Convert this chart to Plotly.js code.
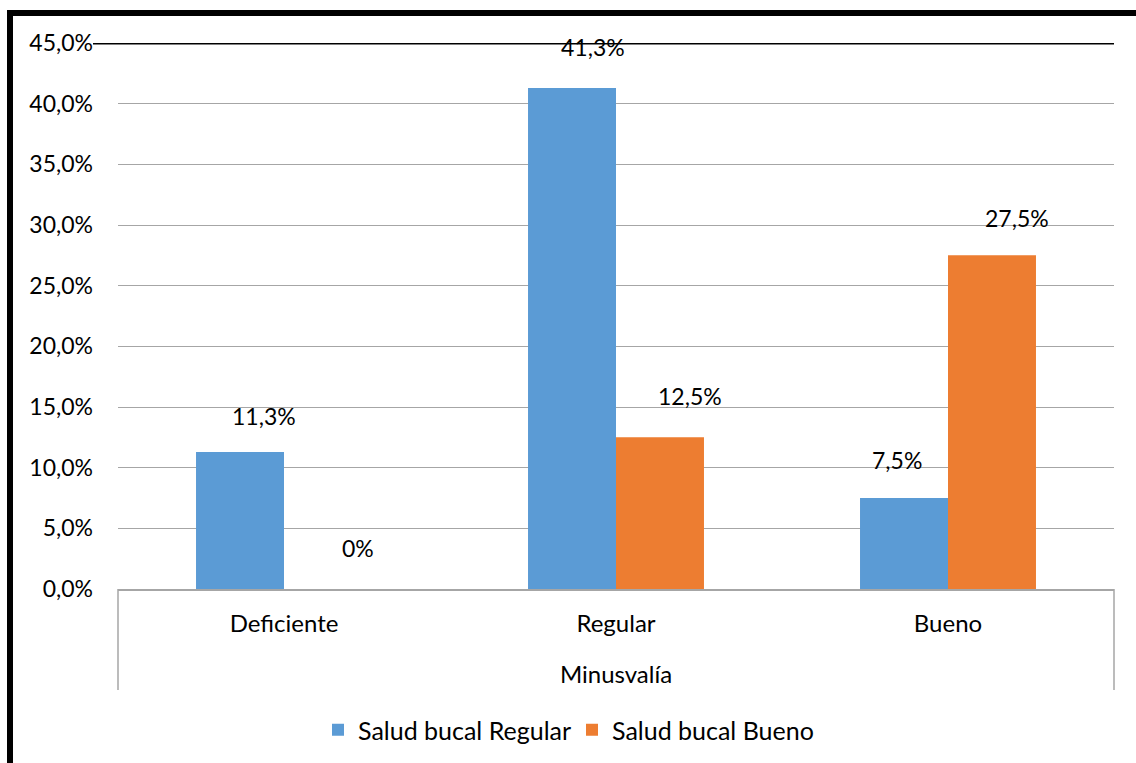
<!DOCTYPE html>
<html>
<head>
<meta charset="utf-8">
<script src="https://cdn.plot.ly/plotly-3.0.1.min.js"></script>
<style>
html,body{margin:0;padding:0;background:#fff;}
#chart{width:1136px;height:763px;}
</style>
</head>
<body>
<div id="chart"></div>
<script>
// ---- data ----
const categories = ["Deficiente", "Regular", "Bueno"];
const seriesNames = ["Salud bucal Regular", "Salud bucal Bueno"];
const saludRegular = [11.3, 41.3, 7.5];
const saludBueno = [0, 12.5, 27.5];
const labelsRegular = ["11,3%", "41,3%", "7,5%"];
const labelsBueno = ["0%", "12,5%", "27,5%"];
const yTickVals = [0, 5, 10, 15, 20, 25, 30, 35, 40, 45];
const yTickText = ["0,0%", "5,0%", "10,0%", "15,0%", "20,0%", "25,0%", "30,0%", "35,0%", "40,0%", "45,0%"];
const xTitle = "Minusvalía";

// ---- style ----
const colors = ["#5b9bd5", "#ed7d31"];
const FONT = "Lato, 'Open Sans', sans-serif";
const NUM = 23, TXT = 24, LEG = 25;
const W = 1136, H = 763;
const M = {l: 118, r: 22, t: 43, b: 174, autoexpand: false};
const plotW = W - M.l - M.r, plotH = H - M.t - M.b;
const px2x = p => (p - M.l) / plotW;
const py2y = p => (H - M.b - p) / plotH;
// per-label manual nudges (pixels) as in the original
const dxReg = [24, 21, -7], dyReg = [36, 41, 38];
const dxBue = [30, 30, 25], dyBue = [41, 41, 37];
const groupHalf = 44; // half of bar width in px

const traces = [
  {type: "bar", name: seriesNames[0], x: categories, y: saludRegular,
   marker: {color: colors[0]}, hoverinfo: "none"},
  {type: "bar", name: seriesNames[1], x: categories, y: saludBueno,
   marker: {color: colors[1]}, hoverinfo: "none"}
];

const annotations = [];
categories.forEach((c, i) => {
  annotations.push({x: c, y: saludRegular[i], xref: "x", yref: "y", text: labelsRegular[i],
    showarrow: false, xshift: -groupHalf + dxReg[i], yshift: dyReg[i], yanchor: "middle",
    font: {family: FONT, size: NUM, color: "#000"}});
  annotations.push({x: c, y: saludBueno[i], xref: "x", yref: "y", text: labelsBueno[i],
    showarrow: false, xshift: groupHalf + dxBue[i], yshift: dyBue[i], yanchor: "middle",
    font: {family: FONT, size: NUM, color: "#000"}});
});

const shapes = [
  // black line at the top value
  {type: "line", xref: "paper", yref: "y", x0: px2x(93), x1: 1, y0: 45, y1: 45,
   line: {color: "#000", width: 3}},
  // category axis frame (vertical edges)
  {type: "line", xref: "paper", yref: "paper", x0: 0, x1: 0, y0: 0, y1: py2y(690),
   line: {color: "#a6a6a6", width: 1.5}},
  {type: "line", xref: "paper", yref: "paper", x0: 1, x1: 1, y0: 0, y1: py2y(690),
   line: {color: "#a6a6a6", width: 1.5}},
  // thick outer frame (left and top)
  {type: "line", xref: "paper", yref: "paper", x0: px2x(10), x1: px2x(10), y0: py2y(10), y1: py2y(H + 5),
   line: {color: "#000", width: 6}},
  {type: "line", xref: "paper", yref: "paper", x0: px2x(7), x1: px2x(W + 5), y0: py2y(13), y1: py2y(13),
   line: {color: "#000", width: 6}}
];

const layout = {
  width: W, height: H,
  margin: M,
  paper_bgcolor: "#fff", plot_bgcolor: "#fff",
  font: {family: FONT, size: TXT, color: "#000"},
  barmode: "group",
  bargap: 0.47,
  bargroupgap: 0,
  showlegend: true,
  legend: {orientation: "h", x: px2x(318), xanchor: "left", y: py2y(730), yanchor: "middle",
    font: {family: FONT, size: LEG, color: "#000"}, entrywidth: 209, entrywidthmode: "pixels",
    traceorder: "normal", bgcolor: "rgba(0,0,0,0)"},
  xaxis: {
    type: "category", automargin: false,
    showgrid: false, zeroline: false,
    showline: true, linecolor: "#a6a6a6", linewidth: 1.5,
    ticks: "", ticklabelstandoff: 13,
    tickfont: {family: FONT, size: TXT, color: "#000"},
    title: {text: xTitle, font: {family: FONT, size: TXT, color: "#000"}, standoff: 30},
    fixedrange: true
  },
  yaxis: {
    range: [0, 45], automargin: false,
    tickvals: yTickVals, ticktext: yTickText,
    showgrid: true, gridcolor: "#a6a6a6", gridwidth: 1,
    zeroline: false, showline: false, ticks: "",
    ticklabelstandoff: 24,
    tickfont: {family: FONT, size: NUM, color: "#000"},
    fixedrange: true
  },
  annotations: annotations,
  shapes: shapes
};

Plotly.newPlot("chart", traces, layout, {displayModeBar: false, staticPlot: true});
</script>
</body>
</html>
